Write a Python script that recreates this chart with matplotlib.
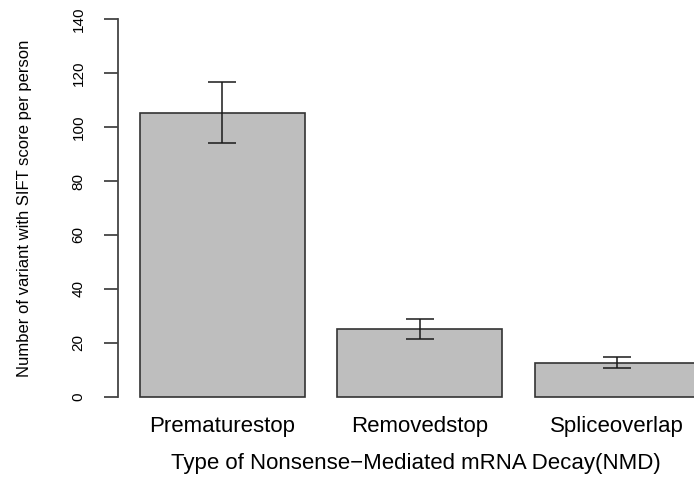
import matplotlib
matplotlib.use("Agg")
import matplotlib.pyplot as plt
import numpy as np
from matplotlib import font_manager

# NMD categories with mean counts and their error half-widths
categories = ["Prematurestop", "Removedstop", "Spliceoverlap"]
means = [105.2, 25.3, 12.7]
errors = [11.3, 3.65, 2.0]
y_ticks = [0, 20, 40, 60, 80, 100, 120, 140]


def pick_family(name, fallback="DejaVu Sans"):
    try:
        font_manager.findfont(name, fallback_to_default=False)
        return name
    except ValueError:
        return fallback


sans = pick_family("Liberation Sans")

W, H = 694, 478
fig = plt.figure(figsize=(W / 100, H / 100), dpi=100)

# plot region in pixels (left, top, right, bottom)
left_px, top_px, right_px, bottom_px = 117.6, 3.9, 694.0, 412.1
ax = fig.add_axes([left_px / W, 1 - bottom_px / H,
                   (right_px - left_px) / W, (bottom_px - top_px) / H])

# barplot layout: width 1, space 0.2
space, width = 0.2, 1.0
x = np.arange(len(categories)) * (width + space) + space + width / 2

ax.bar(x, means, width=width, color="#bebebe", edgecolor="#333333",
       linewidth=1.2, zorder=2)
ax.errorbar(x, means, yerr=errors, fmt="none", ecolor="#1a1a1a",
            elinewidth=1.1, capsize=10.3, capthick=1.1, zorder=3)

ax.set_xlim(0.064, 3.566)
ax.set_ylim(-5.6, 145.6)

for side in ["top", "right", "bottom"]:
    ax.spines[side].set_visible(False)
ax.spines["left"].set_bounds(0, 140)
ax.spines["left"].set_color("#444444")
ax.spines["left"].set_linewidth(1.3)

ax.set_yticks(y_ticks)
ax.set_yticklabels([str(t) for t in y_ticks], rotation=90,
                   family=sans, fontsize=11)
ax.tick_params(axis="y", length=10, width=1.3, color="#444444", pad=13)
for lab in ax.get_yticklabels():
    lab.set_va("center")
    lab.set_ha("right")

ax.set_xticks(x)
ax.set_xticklabels(categories, family=sans, fontsize=16)
ax.tick_params(axis="x", length=0, pad=14.3)
for lab in ax.get_xticklabels():
    lab.set_va("baseline")

ax.set_xlabel("Type of Nonsense\u2212Mediated mRNA Decay(NMD)",
              family=sans, fontsize=16)
ax.xaxis.label.set_va("baseline")
ax.xaxis.set_label_coords((416 - left_px) / (right_px - left_px),
                          (bottom_px - 469) / (bottom_px - top_px))

ax.set_ylabel("Number of variant with SIFT score per person",
              family=sans, fontsize=12)
ax.yaxis.set_label_coords((32 - left_px) / (right_px - left_px), 0.5)

fig.savefig("out.png", dpi=100)
